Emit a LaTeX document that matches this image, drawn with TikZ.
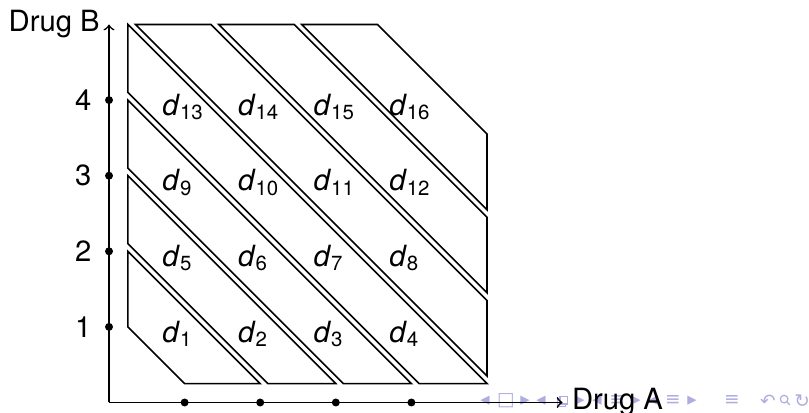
\documentclass[tikz,border=0pt]{standalone}
\usepackage{fontspec}
\setmainfont{TeX Gyre Heros}
\newfontfamily\symfont{DejaVu Sans}
\definecolor{navsym}{rgb}{0.68,0.68,0.88}
\tikzset{
  band/.style={draw=black, line width=0.6pt, line join=miter},
  axis/.style={line width=0.6pt, ->},
  tickdot/.style={circle, fill=black, inner sep=0pt, minimum size=3pt},
  ticklabel/.style={anchor=east, inner sep=0pt},
  cell/.style={anchor=base west, inner sep=0pt},
  nav/.style={text=navsym, inner sep=0pt, font=\symfont\fontsize{7}{7}\selectfont},
  navline/.style={draw=navsym, line width=0.45pt},
}
\begin{document}
\begin{tikzpicture}[font=\fontsize{11}{13}\selectfont]
\useasboundingbox (-1.442,-0.126) rectangle (9.259,5.324);

% navigation bar (drawn first, lies behind the axis label)
\node[nav] (n1) at (4.974,0.02) {◂};
\node[nav] (n2) at (5.251,0.02) {□};
\node[nav] (n3) at (5.503,0.02) {▸};
\node[nav] (n4) at (5.714,0.02) {◂};
\draw[navline] (5.935,-0.05) rectangle (6.035,0.05);
\draw[navline, fill=white] (5.965,-0.02) rectangle (6.065,0.08);
\node[nav] (n6) at (6.230,0.02) {▸};
\node[nav] (n7) at (6.455,0.02) {◂};
\node[nav] (n8) at (6.720,0.02) {≡};
\node[nav] (n9) at (6.971,0.02) {▸};
\node[nav] (n10) at (7.196,0.02) {◂};
\node[nav] (n11) at (7.460,0.02) {≡};
\node[nav] (n12) at (7.712,0.02) {▸};
\node[nav] (n13) at (8.241,0.02) {≡};
\node[nav] (n14) at (8.717,0.02) {↶};
\draw[navline] (8.93,0.045) circle (0.05);
\draw[navline] (8.965,0.01) -- (9.005,-0.03);
\node[nav] (n16) at (9.167,0.02) {↻};

% axes
\coordinate (O) at (0,0);
\coordinate (xend) at (6,0);
\coordinate (yend) at (0,5);
\draw[axis] (O) -- (xend);
\draw[axis] (O) -- (yend);
\node[right] (drugA) at (xend) {Drug A};
\node[left] (drugB) at (yend) {Drug B};

% dose levels on both axes
\foreach \k in {1,...,4} {
  \node[tickdot] (xt\k) at (\k,0) {};
  \node[tickdot] (yt\k) at (0,\k) {};
  \node[ticklabel] (yl\k) at (-0.225,\k) {\k};
}

% diagonal bands, lower-left part
\draw[band] (0.25,1) -- (1,0.25) -- (2,0.25) -- (0.25,2) -- cycle;
\draw[band] (0.25,2.1) -- (2.1,0.25) -- (3,0.25) -- (0.25,3) -- cycle;
\draw[band] (0.25,3.1) -- (3.1,0.25) -- (4,0.25) -- (0.25,4) -- cycle;
\draw[band] (0.25,4.1) -- (4.1,0.25) -- (5,0.25) -- (0.25,5) -- cycle;
% diagonal bands, upper-right part
\draw[band] (0.35,5) -- (5,0.35) -- (5,1.35) -- (1.35,5) -- cycle;
\draw[band] (1.45,5) -- (5,1.45) -- (5,2.45) -- (2.45,5) -- cycle;
\draw[band] (2.55,5) -- (5,2.55) -- (5,3.55) -- (3.55,5) -- cycle;

% dose combinations
\foreach \i in {1,...,4} {
  \foreach \j in {1,...,4} {
    \pgfmathtruncatemacro\n{4*(\i-1)+\j}
    \node[cell] (d\n) at (\j-0.3,\i-0.2) {\textit{d}\textsubscript{\n}};
  }
}
\end{tikzpicture}
\end{document}
